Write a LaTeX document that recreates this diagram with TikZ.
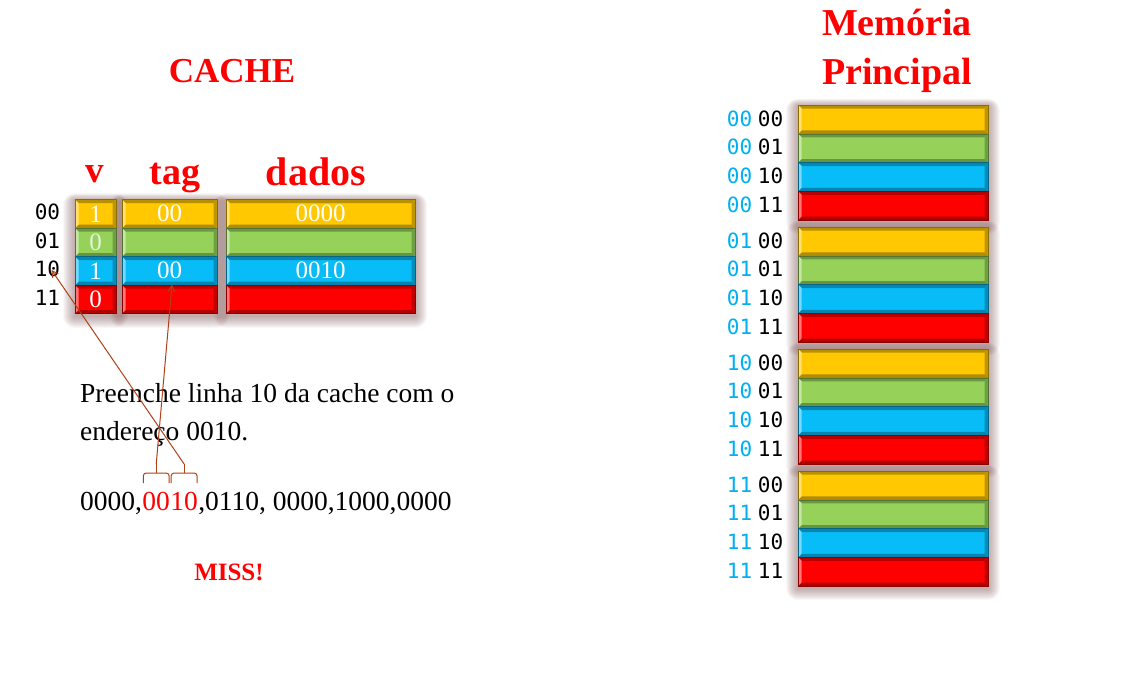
\documentclass[tikz,border=0pt]{standalone}
\usepackage{fontspec}
\setmainfont{Liberation Serif}
\newfontfamily\monof{DejaVu Sans Mono}
\usetikzlibrary{calc,arrows.meta}
\definecolor{cy}{HTML}{FFC800}
\definecolor{cg}{HTML}{96D25A}
\definecolor{cb}{HTML}{08BCF8}
\definecolor{cr}{HTML}{FF0000}
\definecolor{lblue}{HTML}{00B0F0}
\definecolor{arrc}{RGB}{175,65,25}
\definecolor{glowc}{RGB}{120,70,70}
\newcommand\glowbox[4]{\foreach \i in {1,...,12}{\fill[glowc,opacity=0.045,rounded corners=\i pt] ({#1-\i},{#2-0.6*\i+1}) rectangle ({#3+\i},{#4+\i+2});}}
\tikzset{
  bar/.style={fill=#1, draw=#1!55!black, line width=0.5pt, inner sep=0pt, text=white,
    path picture={
      \fill[#1!72!black] (path picture bounding box.north west) -- (path picture bounding box.north east)
        -- ([xshift=-3.5pt,yshift=-3.5pt]path picture bounding box.north east) -- ([xshift=3.5pt,yshift=-3.5pt]path picture bounding box.north west) -- cycle;
      \fill[#1!70!black] (path picture bounding box.south west) -- (path picture bounding box.south east)
        -- ([xshift=-3.5pt,yshift=3.5pt]path picture bounding box.south east) -- ([xshift=3.5pt,yshift=3.5pt]path picture bounding box.south west) -- cycle;
      \fill[#1!55!white] (path picture bounding box.north west) -- (path picture bounding box.south west)
        -- ([xshift=3.5pt,yshift=3.5pt]path picture bounding box.south west) -- ([xshift=3.5pt,yshift=-3.5pt]path picture bounding box.north west) -- cycle;
      \fill[#1!75!black] (path picture bounding box.north east) -- (path picture bounding box.south east)
        -- ([xshift=-3.5pt,yshift=3.5pt]path picture bounding box.south east) -- ([xshift=-3.5pt,yshift=-3.5pt]path picture bounding box.north east) -- cycle;
    }},
  cell/.style={inner sep=0pt, text=white, font=\fontsize{25}{25}\selectfont},
  lab/.style={inner sep=0pt, font=\monof\fontsize{21}{21}\selectfont},
  title/.style={inner sep=0pt, anchor=base, text=red, font=\fontsize{#1}{#1}\selectfont\bfseries},
  body/.style={inner sep=0pt, anchor=base west, font=\fontsize{27.5}{27.5}\selectfont},
  arr/.style={draw=arrc, line width=1pt, -{Straight Barb[length=6pt,width=7pt]}},
  brc/.style={draw=arrc, line width=1pt, rounded corners=3pt},
}
\begin{document}
\begin{tikzpicture}[x=1pt,y=-1pt]
\useasboundingbox[fill=white] (0,0) rectangle (1123,680);

% titles
\node[title=35] (tcache) at (232,82) {CACHE};
\node[title=38] (tmem1) at (897,35) {Memória};
\node[title=38] (tmem2) at (897,84) {Principal};
\node[title=37] (hv) at (95,182) {v};
\node[title=38] (htag) at (175,184) {tag};
\node[title=40] (hdados) at (316,185) {dados};

% glows
\glowbox{75}{199.5}{116}{314}
\glowbox{122}{199.5}{217}{314}
\glowbox{226}{199.5}{415}{314}
\foreach \g in {0,1,2,3}{\glowbox{798}{105+122*\g}{988}{220+122*\g}}

% cache
\foreach \r/\c/\rl in {0/cy/00,1/cg/01,2/cb/10,3/cr/11}{
  \node[bar=\c, minimum width=41pt, minimum height=28.5pt] (c\r v) at (95.5,{213.75+28.5*\r}) {};
  \node[bar=\c, minimum width=95pt, minimum height=28.5pt] (c\r t) at (169.5,{213.75+28.5*\r}) {};
  \node[bar=\c, minimum width=189pt, minimum height=28.5pt] (c\r d) at (320.5,{213.75+28.5*\r}) {};
  \node[lab] (l\rl) at (47.5,{212+28.5*\r}) {\rl};
}
\node[cell] (x0v) at (c0v) {1};
\node[cell] (x0t) at (c0t) {00};
\node[cell] (x0d) at (c0d) {0000};
\node[cell, text=white!75!cg] (x1v) at (c1v) {0};
\node[cell] (x2v) at (c2v) {1};
\node[cell] (x2t) at (c2t) {00};
\node[cell] (x2d) at (c2d) {0010};
\node[cell] (x3v) at (c3v) {0};

% memory
\foreach \g/\gl in {0/00,1/01,2/10,3/11}{
  \foreach \r/\c/\rl in {0/cy/00,1/cg/01,2/cb/10,3/cr/11}{
    \node[bar=\c, minimum width=190pt, minimum height=28.75pt] (m\gl\rl) at (893,{119.375+122*\g+28.75*\r}) {};
    \node[lab, text=lblue] (mb\gl\rl) at (739.5,{118.5+122*\g+28.75*\r}) {\gl};
    \node[lab] (ma\gl\rl) at (770.5,{118.5+122*\g+28.75*\r}) {\rl};
  }
}

% text
\node[body] (p1) at (80,402) {Preenche linha 10 da cache com o};
\node[body] (p2) at (80,440) {endereço 0010.};
\node[body] (s1) at (80,510) {0000,};
\node[body, text=red] (stag) at (s1.base east) {00};
\node[body, text=red] (sidx) at (stag.base east) {10};
\node[body] (s3) at (sidx.base east) {,0110, 0000,1000,0000};
\node[inner sep=0pt, anchor=base, text=red, font=\fontsize{25}{25}\selectfont\bfseries] (miss) at (229,580) {MISS!};

% braces
\draw[brc] ($(stag.base west)+(1,-27)$) |- ($(stag.base)+(0,-37)$) -| ($(stag.base east)+(-1,-27)$);
\draw[brc] ($(stag.base)+(0,-37)$) -- ($(stag.base)+(0,-46)$) coordinate (tip1);
\draw[brc] ($(sidx.base west)+(1,-27)$) |- ($(sidx.base)+(0,-37)$) -| ($(sidx.base east)+(-1,-27)$);
\draw[brc] ($(sidx.base)+(0,-37)$) -- ($(sidx.base)+(0,-46)$) coordinate (tip2);

% arrows
\draw[arr] (tip1) -- ([xshift=2.5pt]c3t.north);
\draw[arr] (tip2) -- ([xshift=4pt,yshift=-1pt]l10.center);
\end{tikzpicture}
\end{document}
